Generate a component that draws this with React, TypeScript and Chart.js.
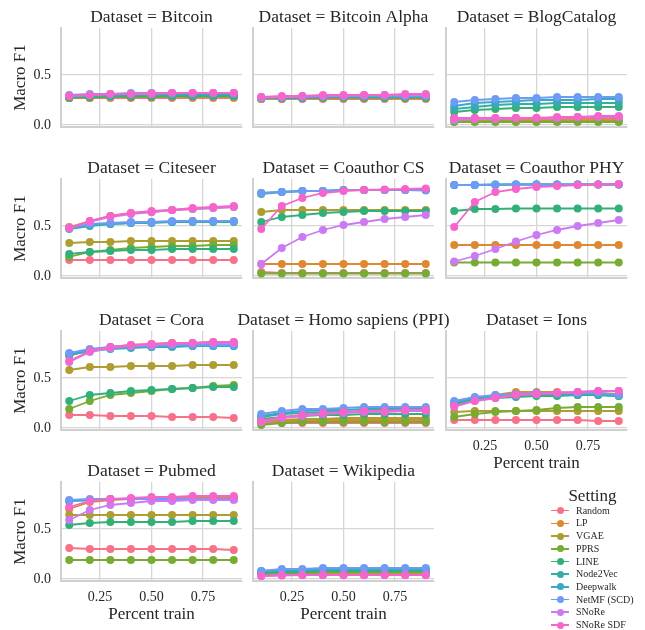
import React, { useEffect, useRef } from "react";
import { Chart, registerables } from "chart.js";

Chart.register(...registerables);

const percentTrain = [0.1, 0.2, 0.3, 0.4, 0.5, 0.6, 0.7, 0.8, 0.9];
const xTicks = [0.25, 0.5, 0.75];
const yTicks = [0, 0.5];
const settings = ["Random", "LP", "VGAE", "PPRS", "LINE", "Node2Vec", "Deepwalk", "NetMF (SCD)", "SNoRe", "SNoRe SDF"];
const colors = ["#f77189", "#dc8932", "#ae9d31", "#77ab31", "#33b07a", "#36ada4", "#38a9c5", "#6e9bf4", "#cc7af4", "#f565cc"];
const datasetNames = ["Bitcoin", "Bitcoin Alpha", "BlogCatalog", "Citeseer", "Coauthor CS", "Coauthor PHY", "Cora", "Homo sapiens (PPI)", "Ions", "Pubmed", "Wikipedia"];

// each dataset: one series per setting, in the order of `settings`
const bitcoin = [
  [0.27, 0.27, 0.27, 0.27, 0.27, 0.27, 0.27, 0.27, 0.27],
  [0.27, 0.27, 0.28, 0.28, 0.28, 0.28, 0.28, 0.28, 0.28],
  [0.27, 0.28, 0.28, 0.28, 0.28, 0.28, 0.28, 0.28, 0.28],
  [0.27, 0.28, 0.28, 0.28, 0.28, 0.29, 0.29, 0.29, 0.29],
  [0.28, 0.28, 0.29, 0.29, 0.29, 0.29, 0.29, 0.29, 0.29],
  [0.28, 0.29, 0.29, 0.3, 0.3, 0.3, 0.3, 0.3, 0.3],
  [0.29, 0.3, 0.3, 0.31, 0.31, 0.31, 0.31, 0.31, 0.31],
  [0.3, 0.31, 0.31, 0.32, 0.32, 0.32, 0.32, 0.32, 0.32],
  [0.29, 0.3, 0.31, 0.31, 0.32, 0.32, 0.32, 0.32, 0.32],
  [0.29, 0.3, 0.31, 0.31, 0.31, 0.32, 0.32, 0.32, 0.32],
];
const bitcoinAlpha = [
  [0.26, 0.26, 0.26, 0.26, 0.26, 0.26, 0.26, 0.26, 0.26],
  [0.26, 0.26, 0.27, 0.27, 0.27, 0.27, 0.27, 0.27, 0.27],
  [0.26, 0.27, 0.27, 0.27, 0.27, 0.27, 0.27, 0.27, 0.27],
  [0.27, 0.27, 0.27, 0.27, 0.27, 0.27, 0.27, 0.27, 0.27],
  [0.27, 0.27, 0.27, 0.28, 0.28, 0.28, 0.28, 0.28, 0.28],
  [0.27, 0.27, 0.28, 0.28, 0.28, 0.28, 0.28, 0.28, 0.28],
  [0.27, 0.28, 0.28, 0.28, 0.29, 0.29, 0.29, 0.29, 0.29],
  [0.27, 0.28, 0.28, 0.29, 0.29, 0.29, 0.29, 0.29, 0.29],
  [0.28, 0.28, 0.29, 0.29, 0.29, 0.3, 0.3, 0.3, 0.3],
  [0.28, 0.29, 0.29, 0.3, 0.3, 0.3, 0.3, 0.31, 0.31],
];
const blogCatalog = [
  [0.05, 0.05, 0.05, 0.05, 0.05, 0.05, 0.05, 0.05, 0.05],
  [0.07, 0.07, 0.07, 0.07, 0.07, 0.07, 0.07, 0.07, 0.07],
  [0.04, 0.04, 0.04, 0.04, 0.04, 0.04, 0.04, 0.04, 0.04],
  [0.03, 0.03, 0.03, 0.03, 0.03, 0.03, 0.03, 0.03, 0.03],
  [0.13, 0.15, 0.16, 0.17, 0.17, 0.18, 0.18, 0.18, 0.18],
  [0.16, 0.18, 0.2, 0.21, 0.21, 0.22, 0.22, 0.22, 0.22],
  [0.19, 0.22, 0.23, 0.24, 0.25, 0.25, 0.25, 0.26, 0.26],
  [0.23, 0.25, 0.26, 0.27, 0.27, 0.28, 0.28, 0.28, 0.28],
  [0.05, 0.06, 0.06, 0.07, 0.07, 0.07, 0.08, 0.08, 0.08],
  [0.07, 0.07, 0.07, 0.07, 0.07, 0.08, 0.08, 0.09, 0.09],
];
const citeseer = [
  [0.16, 0.16, 0.16, 0.16, 0.16, 0.16, 0.16, 0.16, 0.16],
  [0.49, 0.55, 0.6, 0.63, 0.64, 0.66, 0.67, 0.68, 0.69],
  [0.33, 0.34, 0.34, 0.35, 0.35, 0.35, 0.35, 0.35, 0.35],
  [0.19, 0.24, 0.26, 0.28, 0.29, 0.3, 0.3, 0.31, 0.31],
  [0.22, 0.24, 0.25, 0.26, 0.26, 0.27, 0.27, 0.27, 0.27],
  [0.47, 0.5, 0.52, 0.53, 0.53, 0.54, 0.54, 0.54, 0.54],
  [0.48, 0.51, 0.52, 0.53, 0.54, 0.54, 0.55, 0.55, 0.55],
  [0.48, 0.52, 0.53, 0.54, 0.54, 0.55, 0.55, 0.55, 0.55],
  [0.48, 0.54, 0.59, 0.62, 0.64, 0.66, 0.67, 0.68, 0.69],
  [0.48, 0.55, 0.6, 0.63, 0.65, 0.66, 0.68, 0.69, 0.7],
];
const coauthorCS = [
  [0.04, 0.03, 0.03, 0.03, 0.03, 0.03, 0.03, 0.03, 0.03],
  [0.12, 0.12, 0.12, 0.12, 0.12, 0.12, 0.12, 0.12, 0.12],
  [0.64, 0.66, 0.66, 0.66, 0.66, 0.66, 0.66, 0.66, 0.66],
  [0.025, 0.025, 0.025, 0.025, 0.025, 0.025, 0.025, 0.025, 0.025],
  [0.54, 0.59, 0.61, 0.63, 0.64, 0.65, 0.65, 0.65, 0.65],
  [0.82, 0.84, 0.85, 0.85, 0.86, 0.86, 0.86, 0.86, 0.86],
  [0.83, 0.84, 0.85, 0.85, 0.86, 0.86, 0.86, 0.86, 0.86],
  [0.83, 0.84, 0.85, 0.85, 0.86, 0.86, 0.86, 0.86, 0.855],
  [0.12, 0.28, 0.39, 0.46, 0.51, 0.54, 0.57, 0.59, 0.61],
  [0.47, 0.7, 0.78, 0.83, 0.85, 0.86, 0.865, 0.87, 0.875],
];
const coauthorPHY = [
  [],
  [0.31, 0.31, 0.31, 0.31, 0.31, 0.31, 0.31, 0.31, 0.31],
  [],
  [0.135, 0.135, 0.135, 0.135, 0.135, 0.135, 0.135, 0.135, 0.135],
  [0.65, 0.67, 0.67, 0.675, 0.675, 0.675, 0.675, 0.675, 0.675],
  [0.91, 0.91, 0.91, 0.915, 0.915, 0.915, 0.915, 0.915, 0.915],
  [0.91, 0.91, 0.915, 0.915, 0.915, 0.915, 0.915, 0.915, 0.915],
  [0.91, 0.91, 0.915, 0.915, 0.915, 0.915, 0.915, 0.915, 0.915],
  [0.145, 0.2, 0.27, 0.345, 0.41, 0.46, 0.5, 0.53, 0.56],
  [0.49, 0.74, 0.84, 0.87, 0.89, 0.9, 0.91, 0.915, 0.92],
];
const cora = [
  [0.13, 0.13, 0.12, 0.12, 0.12, 0.11, 0.11, 0.11, 0.1],
  [0.72, 0.78, 0.81, 0.83, 0.84, 0.85, 0.85, 0.86, 0.86],
  [0.58, 0.61, 0.61, 0.62, 0.62, 0.62, 0.63, 0.63, 0.63],
  [0.19, 0.27, 0.33, 0.35, 0.37, 0.39, 0.4, 0.42, 0.43],
  [0.27, 0.33, 0.35, 0.37, 0.38, 0.39, 0.4, 0.41, 0.41],
  [0.73, 0.77, 0.79, 0.8, 0.81, 0.81, 0.82, 0.82, 0.82],
  [0.74, 0.78, 0.8, 0.81, 0.81, 0.82, 0.82, 0.82, 0.82],
  [0.75, 0.79, 0.81, 0.82, 0.82, 0.83, 0.83, 0.83, 0.83],
  [0.66, 0.76, 0.8, 0.82, 0.83, 0.84, 0.85, 0.85, 0.85],
  [0.67, 0.77, 0.81, 0.83, 0.84, 0.85, 0.85, 0.86, 0.86],
];
const homoSapiens = [
  [0.05, 0.05, 0.05, 0.05, 0.05, 0.05, 0.05, 0.05, 0.05],
  [0.06, 0.07, 0.07, 0.08, 0.08, 0.08, 0.08, 0.08, 0.08],
  [0.07, 0.08, 0.09, 0.09, 0.1, 0.1, 0.1, 0.1, 0.1],
  [0.03, 0.05, 0.06, 0.06, 0.06, 0.06, 0.06, 0.06, 0.06],
  [0.09, 0.11, 0.12, 0.13, 0.13, 0.14, 0.14, 0.14, 0.14],
  [0.11, 0.14, 0.15, 0.16, 0.16, 0.17, 0.17, 0.17, 0.17],
  [0.12, 0.15, 0.17, 0.18, 0.18, 0.19, 0.19, 0.19, 0.19],
  [0.14, 0.17, 0.19, 0.19, 0.2, 0.21, 0.21, 0.21, 0.21],
  [0.06, 0.1, 0.12, 0.14, 0.15, 0.16, 0.16, 0.17, 0.17],
  [0.07, 0.11, 0.13, 0.15, 0.16, 0.17, 0.17, 0.18, 0.18],
];
const ions = [
  [0.08, 0.08, 0.08, 0.08, 0.08, 0.08, 0.08, 0.07, 0.07],
  [0.24, 0.29, 0.33, 0.36, 0.36, 0.36, 0.35, 0.35, 0.34],
  [0.16, 0.17, 0.17, 0.17, 0.17, 0.17, 0.17, 0.17, 0.17],
  [0.11, 0.14, 0.16, 0.17, 0.18, 0.2, 0.21, 0.21, 0.21],
  [0.24, 0.28, 0.3, 0.31, 0.32, 0.32, 0.33, 0.33, 0.32],
  [0.25, 0.29, 0.31, 0.32, 0.33, 0.33, 0.33, 0.33, 0.32],
  [0.26, 0.3, 0.32, 0.33, 0.34, 0.34, 0.34, 0.34, 0.33],
  [0.27, 0.31, 0.33, 0.34, 0.35, 0.35, 0.35, 0.35, 0.33],
  [0.21, 0.27, 0.3, 0.33, 0.34, 0.35, 0.36, 0.37, 0.37],
  [0.22, 0.27, 0.3, 0.33, 0.34, 0.35, 0.36, 0.37, 0.37],
];
const pubmed = [
  [0.31, 0.3, 0.3, 0.3, 0.3, 0.3, 0.3, 0.3, 0.29],
  [0.7, 0.77, 0.79, 0.8, 0.81, 0.81, 0.82, 0.82, 0.82],
  [0.64, 0.64, 0.64, 0.64, 0.64, 0.64, 0.64, 0.64, 0.64],
  [0.19, 0.19, 0.19, 0.19, 0.19, 0.19, 0.19, 0.19, 0.19],
  [0.54, 0.56, 0.57, 0.57, 0.57, 0.57, 0.58, 0.58, 0.58],
  [0.78, 0.79, 0.8, 0.8, 0.8, 0.8, 0.8, 0.8, 0.8],
  [0.78, 0.79, 0.8, 0.8, 0.8, 0.8, 0.8, 0.8, 0.8],
  [0.79, 0.8, 0.8, 0.8, 0.8, 0.8, 0.8, 0.8, 0.8],
  [0.59, 0.69, 0.74, 0.76, 0.78, 0.78, 0.79, 0.79, 0.79],
  [0.72, 0.78, 0.8, 0.81, 0.82, 0.82, 0.83, 0.83, 0.83],
];
const wikipedia = [
  [0.04, 0.04, 0.04, 0.04, 0.04, 0.04, 0.04, 0.04, 0.04],
  [0.05, 0.05, 0.05, 0.05, 0.05, 0.05, 0.05, 0.05, 0.05],
  [0.05, 0.06, 0.06, 0.06, 0.06, 0.06, 0.06, 0.06, 0.06],
  [0.05, 0.06, 0.06, 0.07, 0.07, 0.07, 0.07, 0.07, 0.07],
  [0.06, 0.07, 0.07, 0.08, 0.08, 0.08, 0.08, 0.08, 0.08],
  [0.07, 0.08, 0.08, 0.09, 0.09, 0.09, 0.09, 0.09, 0.09],
  [0.08, 0.09, 0.09, 0.1, 0.1, 0.1, 0.1, 0.1, 0.1],
  [0.08, 0.1, 0.1, 0.11, 0.11, 0.11, 0.11, 0.11, 0.11],
  [0.03, 0.04, 0.04, 0.04, 0.04, 0.04, 0.04, 0.04, 0.04],
  [0.03, 0.035, 0.04, 0.04, 0.04, 0.04, 0.04, 0.04, 0.04],
];
const datasetValues = [bitcoin, bitcoinAlpha, blogCatalog, citeseer, coauthorCS, coauthorPHY, cora, homoSapiens, ions, pubmed, wikipedia];

const FONT = '"Liberation Serif", "DejaVu Serif", serif';
const TEXT = "#262626";
const GRID = "#d6d6d6";
const SPINE = "#d0d0d0";

const COL_LEFT = [61, 253, 446];
const ROW_TOP = [28, 179, 331, 482];
const PLOT_W = 181;
const PLOT_H = 99;
const PAD_L = 60;
const PAD_T = 25;
const PAD_R = 22;
const PAD_B = 50;

const panelTitlePlugin = {
  id: "panelTitle",
  afterDraw(chart: any, _args: any, opts: any) {
    const { ctx, chartArea } = chart;
    ctx.save();
    ctx.font = `17.5px ${FONT}`;
    ctx.fillStyle = TEXT;
    ctx.textAlign = "center";
    ctx.textBaseline = "alphabetic";
    ctx.fillText(opts.text, (chartArea.left + chartArea.right) / 2, chartArea.top - 6);
    ctx.restore();
  },
};

function Panel({ index }: { index: number }) {
  const ref = useRef<HTMLCanvasElement | null>(null);
  const col = index % 3;
  const row = Math.floor(index / 3);
  const showX = row === 3 || (row === 2 && col === 2);
  const showY = col === 0;
  const left = COL_LEFT[col] - PAD_L;
  const top = ROW_TOP[row] - PAD_T;
  const width = PAD_L + PLOT_W + PAD_R;
  const height = PAD_T + PLOT_H + PAD_B;

  useEffect(() => {
    const values = datasetValues[index];
    const chart = new Chart(ref.current as HTMLCanvasElement, {
      type: "line",
      data: {
        datasets: settings.map((s, i) => ({
          label: s,
          data: values[i].map((v: number, k: number) => ({ x: percentTrain[k], y: v })),
          borderColor: colors[i],
          backgroundColor: colors[i],
          borderWidth: 1.8,
          pointRadius: 4,
          pointBorderWidth: 0,
          pointBackgroundColor: colors[i],
          order: settings.length - i,
          clip: false as any,
        })),
      },
      options: {
        responsive: false,
        animation: false,
        events: [],
        layout: { padding: { top: PAD_T, right: PAD_R, left: 0, bottom: 0 } },
        plugins: {
          legend: { display: false },
          tooltip: { enabled: false },
          panelTitle: { text: "Dataset = " + datasetNames[index] },
        } as any,
        scales: {
          x: {
            type: "linear",
            min: 0.06,
            max: 0.94,
            afterBuildTicks: (s: any) => {
              s.ticks = xTicks.map((v) => ({ value: v }));
            },
            afterFit: (s: any) => {
              s.height = PAD_B;
            },
            grid: { color: GRID, lineWidth: 1.3, drawTicks: false },
            border: { color: SPINE, width: 2 },
            ticks: {
              display: showX,
              padding: 8,
              color: TEXT,
              font: { family: FONT, size: 14 },
              callback: (v: any) => Number(v).toFixed(2),
            },
            title: {
              display: showX,
              text: "Percent train",
              color: TEXT,
              font: { family: FONT, size: 17 },
              padding: { top: 0, bottom: 6 },
            },
          },
          y: {
            type: "linear",
            min: -0.02,
            max: 0.97,
            afterBuildTicks: (s: any) => {
              s.ticks = yTicks.map((v) => ({ value: v }));
            },
            afterFit: (s: any) => {
              s.width = PAD_L;
            },
            grid: { color: GRID, lineWidth: 1.3, drawTicks: false },
            border: { color: SPINE, width: 2 },
            ticks: {
              display: showY,
              padding: 10,
              color: TEXT,
              font: { family: FONT, size: 14 },
              callback: (v: any) => Number(v).toFixed(1),
            },
            title: {
              display: showY,
              text: "Macro F1",
              color: TEXT,
              font: { family: FONT, size: 17 },
              padding: { top: 9, bottom: 0 },
            },
          },
        },
      },
      plugins: [panelTitlePlugin as any],
    });
    return () => chart.destroy();
  }, [index]);

  return (
    <canvas
      ref={ref}
      width={width}
      height={height}
      style={{ position: "absolute", left, top, width, height }}
    />
  );
}

function Legend() {
  return (
    <div style={{ position: "absolute", left: 540, top: 486, width: 105, fontFamily: FONT, color: TEXT }}>
      <div style={{ position: "absolute", left: 0, width: 105, top: 0, textAlign: "center", fontSize: 17, lineHeight: "20px" }}>
        Setting
      </div>
      {settings.map((s, i) => (
        <div key={s} style={{ position: "absolute", left: 0, top: 24.7 + i * 12.7 - 6, height: 12, width: 105 }}>
          <div style={{ position: "absolute", left: 11, top: 5.2, width: 18, height: 1.6, background: colors[i] }} />
          <div style={{ position: "absolute", left: 16.5, top: 2.5, width: 7, height: 7, borderRadius: "50%", background: colors[i] }} />
          <div style={{ position: "absolute", left: 36, top: 0, fontSize: 10, lineHeight: "12px", whiteSpace: "nowrap" }}>{s}</div>
        </div>
      ))}
    </div>
  );
}

export default function App() {
  return (
    <div style={{ position: "absolute", left: 0, top: 0, width: 645, height: 630, background: "#fff", overflow: "hidden" }}>
      {datasetNames.map((_, i) => (
        <Panel key={i} index={i} />
      ))}
      <Legend />
    </div>
  );
}
